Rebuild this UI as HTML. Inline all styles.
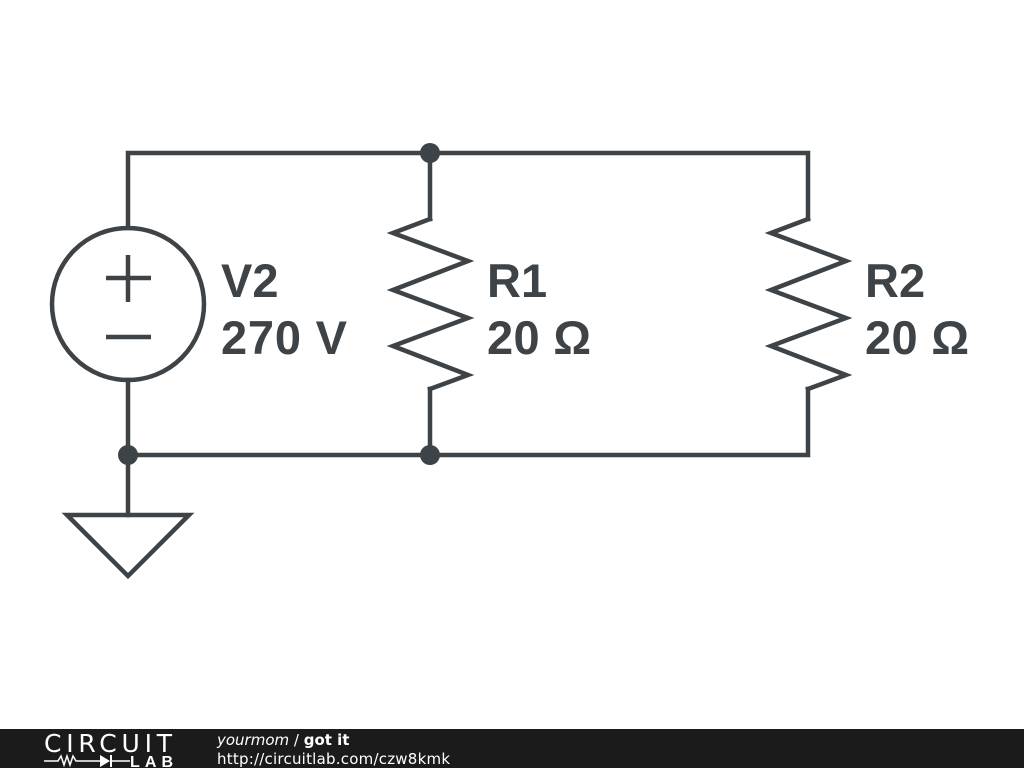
<!DOCTYPE html>
<html><head><meta charset="utf-8"><style>
html,body{margin:0;padding:0;background:#fff;width:1024px;height:768px;overflow:hidden}
</style></head><body>
<svg width="1024" height="768" xmlns="http://www.w3.org/2000/svg">
<g stroke="#3d4347" stroke-width="4.5" fill="none" stroke-linejoin="miter" stroke-linecap="square">
<polyline points="128,228 128,153 808,153 808,219"/>
<polyline points="128,380 128,455 808,455 808,389"/>
<line x1="430" y1="153" x2="430" y2="219"/>
<line x1="430" y1="389" x2="430" y2="455"/>
<polyline points="430,219 393,233 468,261 393,290 468,318 393,346 468,375 430,389"/>
<polyline points="808,219 771,233 846,261 771,290 846,318 771,346 846,375 808,389"/>
<circle cx="128" cy="304" r="76"/>
<line x1="106" y1="278" x2="151" y2="278" stroke-linecap="butt"/>
<line x1="128" y1="255" x2="128" y2="302" stroke-linecap="butt"/>
<line x1="106" y1="337" x2="151" y2="337" stroke-linecap="butt"/>
<line x1="128" y1="455" x2="128" y2="515"/>
<polygon points="67,515 189,515 128,576"/>
</g>
<g fill="#3d4347">
<circle cx="430" cy="153" r="10"/><circle cx="128" cy="455" r="10"/><circle cx="430" cy="455" r="10"/>
</g>
<g font-family="Liberation Sans, sans-serif" font-weight="bold" font-size="47" fill="#3d4347">
<text x="221" y="297">V2</text><text x="221" y="354" textLength="126">270 V</text>
<text x="487" y="297">R1</text><text x="487" y="354" textLength="104">20 Ω</text>
<text x="865" y="297">R2</text><text x="865" y="354" textLength="104">20 Ω</text>
</g>
<rect x="0" y="729" width="1024" height="39" fill="#1b1b1b"/>
<text x="44" y="752" font-family="DejaVu Sans, sans-serif" font-size="25" fill="#fff" textLength="128">CIRCUIT</text>
<polyline points="44,761 58,761 61,756 64,765 67,756 70,765 73,756 76,761 100,761" stroke="#fff" stroke-width="1.5" fill="none"/>
<polygon points="100,755 100,767 110,761" fill="#fff"/>
<line x1="111" y1="755" x2="111" y2="767" stroke="#fff" stroke-width="2"/>
<line x1="111" y1="761" x2="130" y2="761" stroke="#fff" stroke-width="1.5"/>
<text x="130" y="767" font-family="Liberation Sans, sans-serif" font-weight="bold" font-size="16" fill="#fff" textLength="43">LAB</text>
<text x="217" y="745" font-family="DejaVu Sans, sans-serif" font-size="15" fill="#fff"><tspan font-style="italic">yourmom</tspan> / <tspan font-weight="bold">got it</tspan></text>
<text x="217" y="764" font-family="DejaVu Sans, sans-serif" font-size="15" fill="#fff" textLength="233">http://circuitlab.com/czw8kmk</text>
</svg>
</body></html>
